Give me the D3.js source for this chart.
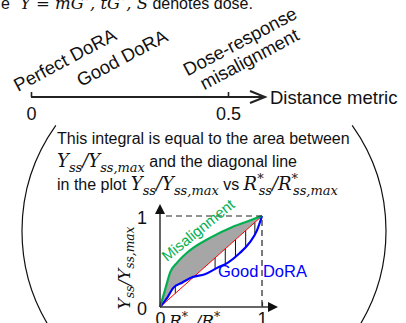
<!DOCTYPE html>
<html>
<head>
<meta charset="utf-8">
<script src="https://cdn.jsdelivr.net/npm/d3@7"></script>
<style>
body { margin: 0; background: #fff; }
svg { display: block; font-family: "Liberation Sans", Arial, sans-serif; }
.math { font-family: "DejaVu Serif", serif; font-style: italic; }
</style>
</head>
<body>
<script>
var width = 406, height = 323;

// distance metric axis
var metricTicks = [0, 0.5];
var metricTickLabels = ["0", "0.5"];
var metricTitle = "Distance metric";
var regionLabels = [["Perfect DoRA"], ["Good DoRA"], ["Dose-response", "misalignment"]];

// caption lines inside the lens
var introText = "This integral is equal to the area between";

// normalised response plot
var normTicks = [0, 1];
var goodX = [0, 0.07, 0.13, 0.22, 0.32, 0.44, 0.56, 0.67, 0.78, 0.88, 0.95, 1];
var goodY = [0, 0.10, 0.21, 0.27, 0.33, 0.36, 0.43, 0.49, 0.59, 0.71, 0.84, 1];
var misX = [0, 0.05, 0.10, 0.17, 0.29, 0.49, 0.71, 0.88, 1];
var misY = [0, 0.19, 0.38, 0.49, 0.62, 0.76, 0.88, 0.95, 1];
var hatchX = [0.15, 0.54, 0.64, 0.74, 0.84, 0.93];

var svg = d3.select("body").append("svg")
    .attr("width", width)
    .attr("height", height);

// write a run of math pieces into a text element, returns the current dy offset
function math(t, pieces, fs, shift) {
  shift = shift || 0;
  pieces.forEach(function(p) {
    var dy = p.sub ? fs * 0.25 : (p.sup ? -fs * 0.38 : 0);
    t.append("tspan")
        .attr("class", "math")
        .attr("dy", dy - shift)
        .attr("dx", p.dx || 0)
        .style("font-size", (p.sub || p.sup ? fs * 0.72 : fs) + "px")
        .text(p.t);
    shift = dy;
  });
  return shift;
}
function plain(t, s, shift, dx) {
  t.append("tspan").attr("dy", -(shift || 0)).attr("dx", dx || 0).text(s);
  return 0;
}
var yRatio = [{t: "Y"}, {t: "ss", sub: true}, {t: "/Y"}, {t: "ss,max", sub: true}];
var rRatio = [{t: "R"}, {t: "*", sup: true}, {t: "ss", sub: true, dx: -5}, {t: "/R"},
              {t: "*", sup: true}, {t: "ss,max", sub: true, dx: -5}];

// clipped line at the very top
var headLine = svg.append("text").attr("x", 1).attr("y", 9).style("font-size", "16px")
    .attr("fill", "#111").attr("xml:space", "preserve");
var s = plain(headLine, "e");
s = math(headLine, [{t: "Y = mG", dx: 10}, {t: "*", sup: true}, {t: ", tG"}, {t: "*", sup: true}, {t: ", S"}], 16.5, s);
plain(headLine, " denotes dose.", s);

// ---- distance metric axis ----
var x = d3.scaleLinear().domain([0, 0.5]).range([31, 228]);
var axisY = 97;

var gAxis = svg.append("g")
    .attr("transform", "translate(0," + axisY + ")")
    .call(d3.axisBottom(x).tickValues(metricTicks)
        .tickFormat(function(d, i) { return metricTickLabels[i]; })
        .tickSize(-5).tickPadding(10));
gAxis.select(".domain").remove();
gAxis.selectAll(".tick line").attr("stroke", "#222").attr("stroke-width", 1.6);
gAxis.selectAll(".tick text").attr("fill", "#111")
    .style("font-family", "Liberation Sans, Arial, sans-serif").style("font-size", "18px");

var tipX = x(0.5) + 37;
svg.append("line")
    .attr("x1", x(0)).attr("x2", tipX - 1)
    .attr("y1", axisY).attr("y2", axisY)
    .attr("stroke", "#222").attr("stroke-width", 2);
svg.append("path")
    .attr("d", "M" + (tipX - 15) + "," + (axisY - 6) + "L" + tipX + "," + axisY + "L" + (tipX - 15) + "," + (axisY + 6))
    .attr("fill", "none").attr("stroke", "#222").attr("stroke-width", 2);
svg.append("text")
    .attr("x", tipX + 5).attr("y", axisY + 7)
    .style("font-size", "18.5px").attr("fill", "#111")
    .text(metricTitle);

// slanted region labels
var labelAnchors = [[x(0) - 13, 92, "start"], [x(0) + 50, 87, "start"], [243, 47, "middle"]];
regionLabels.forEach(function(lines, i) {
  var a = labelAnchors[i];
  var t = svg.append("text")
      .attr("transform", "translate(" + a[0] + "," + a[1] + ") rotate(-28)")
      .attr("text-anchor", a[2])
      .style("font-size", "18.5px").attr("fill", "#111");
  lines.forEach(function(l, j) {
    t.append("tspan").attr("x", 0).attr("y", j * 20).text(l);
  });
});

// ---- lens outline ----
var cx = 204, cy = 231, r = 182;
var lens = d3.path();
lens.arc(cx, cy, r, 145 * Math.PI / 180, 215.5 * Math.PI / 180);
lens.moveTo(cx + r * Math.cos(-35.5 * Math.PI / 180), cy + r * Math.sin(-35.5 * Math.PI / 180));
lens.arc(cx, cy, r, -35.5 * Math.PI / 180, 35 * Math.PI / 180);
svg.append("path").attr("d", lens.toString())
    .attr("fill", "none").attr("stroke", "#111").attr("stroke-width", 1.2);

// ---- caption ----
svg.append("text").attr("x", 57).attr("y", 144)
    .style("font-size", "16px").attr("fill", "#111").text(introText);

var l2 = svg.append("text").attr("x", 57).attr("y", 167).style("font-size", "16px")
    .attr("fill", "#111").attr("xml:space", "preserve");
s = math(l2, yRatio, 18);
plain(l2, " and the diagonal line", s);

var l3 = svg.append("text").attr("x", 57).attr("y", 190).style("font-size", "16px")
    .attr("fill", "#111").attr("xml:space", "preserve");
plain(l3, "in the plot ");
s = math(l3, yRatio, 18);
s = plain(l3, " vs ", s);
math(l3, rRatio, 18, s);

// ---- small plot ----
var xs = d3.scaleLinear().domain([0, 1]).range([160, 262]);
var ys = d3.scaleLinear().domain([0, 1]).range([307, 216]);

var good = goodX.map(function(v, i) { return [v, goodY[i]]; });
var mis = misX.map(function(v, i) { return [v, misY[i]]; });

// grey area between misalignment curve and the diagonal
svg.append("path")
    .datum(mis)
    .attr("fill", "#a6a6a6")
    .attr("d", d3.area().curve(d3.curveMonotoneX)
        .x(function(d) { return xs(d[0]); })
        .y0(function(d) { return ys(d[0]); })
        .y1(function(d) { return ys(d[1]); }));
// white between good curve and diagonal
svg.append("path")
    .datum(good)
    .attr("fill", "#fff")
    .attr("d", d3.area().curve(d3.curveMonotoneX)
        .x(function(d) { return xs(d[0]); })
        .y0(function(d) { return ys(d[0]); })
        .y1(function(d) { return ys(d[1]); }));

var line = d3.line().curve(d3.curveMonotoneX)
    .x(function(d) { return xs(d[0]); })
    .y(function(d) { return ys(d[1]); });

var goodPath = svg.append("path").datum(good)
    .attr("fill", "none").attr("stroke", "#0000ff").attr("stroke-width", 2.2)
    .attr("d", line);

// hatches between the diagonal and the good curve
function yOnPath(node, px) {
  var lo = 0, hi = node.getTotalLength();
  for (var k = 0; k < 30; k++) {
    var mid = (lo + hi) / 2;
    if (node.getPointAtLength(mid).x < px) lo = mid; else hi = mid;
  }
  return node.getPointAtLength(lo).y;
}
svg.selectAll(".hatch")
    .data(hatchX)
  .enter().append("line")
    .attr("class", "hatch")
    .attr("x1", function(d) { return xs(d); })
    .attr("x2", function(d) { return xs(d); })
    .attr("y1", function(d) { return ys(d); })
    .attr("y2", function(d) { return yOnPath(goodPath.node(), xs(d)); })
    .attr("stroke", "#111").attr("stroke-width", 1);

// diagonal
svg.append("line")
    .attr("x1", xs(0)).attr("y1", ys(0)).attr("x2", xs(1)).attr("y2", ys(1))
    .attr("stroke", "#ff0000").attr("stroke-width", 1);
goodPath.raise();

svg.append("path").datum(mis)
    .attr("fill", "none").attr("stroke", "#00b050").attr("stroke-width", 2.2)
    .attr("d", line);

// dashed frame
svg.append("path")
    .attr("d", "M" + (xs(0) + 6) + "," + ys(1) + "H" + xs(1) + "V" + ys(0))
    .attr("fill", "none").attr("stroke", "#222").attr("stroke-width", 1.2)
    .attr("stroke-dasharray", "6,4");

// axes with solid arrowheads
svg.append("line").attr("x1", xs(0)).attr("y1", ys(0)).attr("x2", xs(0)).attr("y2", 212)
    .attr("stroke", "#333").attr("stroke-width", 1.5);
svg.append("line").attr("x1", xs(0)).attr("y1", ys(0)).attr("x2", 270).attr("y2", ys(0))
    .attr("stroke", "#333").attr("stroke-width", 1.5);
svg.append("path")
    .attr("d", "M" + (xs(0) - 5) + ",214L" + xs(0) + ",204L" + (xs(0) + 5) + ",214Z")
    .attr("fill", "#111");
svg.append("path")
    .attr("d", "M268," + (ys(0) - 5) + "L278," + ys(0) + "L268," + (ys(0) + 5) + "Z")
    .attr("fill", "#111");

var gy = svg.append("g")
    .attr("transform", "translate(" + xs(0) + ",2)")
    .call(d3.axisLeft(ys).tickValues(normTicks).tickFormat(d3.format("d"))
        .tickSize(0).tickPadding(13));
gy.select(".domain").remove();
gy.selectAll("text").style("font-size", "18px").attr("fill", "#111")
    .style("font-family", "Liberation Sans, Arial, sans-serif");

var gx = svg.append("g")
    .attr("transform", "translate(0," + ys(0) + ")")
    .call(d3.axisBottom(xs).tickValues(normTicks).tickFormat(d3.format("d"))
        .tickSize(-5).tickPadding(5));
gx.select(".domain").remove();
gx.selectAll(".tick line").attr("stroke", "#333").attr("stroke-width", 1.2);
gx.selectAll("text").style("font-size", "18px").attr("fill", "#111")
    .style("font-family", "Liberation Sans, Arial, sans-serif");

// axis titles
var xt = svg.append("text").attr("x", 169).attr("y", 327).style("font-size", "17px").attr("fill", "#111");
math(xt, rRatio, 17);
var yt = svg.append("text")
    .attr("transform", "translate(130,268) rotate(-90)")
    .attr("text-anchor", "middle")
    .style("font-size", "17px").attr("fill", "#111");
math(yt, yRatio, 17);

// curve labels
svg.append("text")
    .attr("transform", "translate(167,262) rotate(-39)")
    .style("font-size", "15px").attr("fill", "#00b050")
    .text("Misalignment");
svg.append("text")
    .attr("x", 218).attr("y", 277)
    .style("font-size", "16.5px").attr("fill", "#0000ff")
    .text("Good DoRA");
</script>
</body>
</html>
